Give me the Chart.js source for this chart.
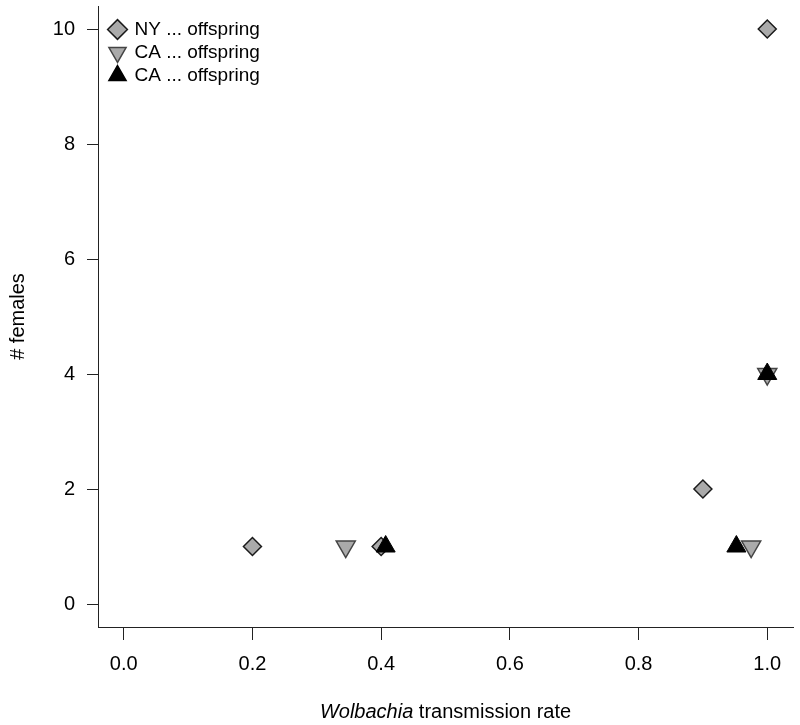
<!DOCTYPE html>
<html>
    <head>
        <title>Wolbachia</title>
        <meta charset="UTF-8" />
        <script src="https://cdn.jsdelivr.net/npm/chart.js"></script>
        <style>
            body { margin: 0; background: #fff; }
        </style>
    </head>
    <body>
        <canvas id="myChart" width="800" height="725"></canvas>
        <script>
            // データ
            var seriesNames = ['NY ... offspring', 'CA ... offspring', 'CA ... offspring'];
            var nyRate = [0.2, 0.4, 0.9, 1.0];
            var nyFemales = [1, 1, 2, 10];
            var caDownRate = [0.345, 0.975, 1.0];
            var caDownFemales = [1, 1, 4];
            var caUpRate = [0.407, 0.952, 1.0];
            var caUpFemales = [1, 1, 4];
            var xTicks = [0.0, 0.2, 0.4, 0.6, 0.8, 1.0];
            var yTicks = [0, 2, 4, 6, 8, 10];

            function toPoints(xs, ys) {
                return xs.map(function (x, i) { return { x: x, y: ys[i] }; });
            }

            var fontFamily = '"Liberation Sans", Arial, sans-serif';

            // 凡例をプロット内の左上に置く
            var legendShift = {
                id: 'legendShift',
                afterLayout: function (chart) {
                    chart.legend.left = chart.chartArea.left + 8;
                    chart.legend.top = chart.chartArea.top + 10;
                }
            };

            // x軸タイトル (斜体 + 通常)
            var xTitle = {
                id: 'xTitle',
                afterDraw: function (chart) {
                    var ctx = chart.ctx;
                    var a = 'Wolbachia';
                    var b = ' transmission rate';
                    ctx.save();
                    ctx.fillStyle = '#000';
                    ctx.textBaseline = 'middle';
                    ctx.font = 'italic 20px ' + fontFamily;
                    var wa = ctx.measureText(a).width;
                    ctx.font = '20px ' + fontFamily;
                    var wb = ctx.measureText(b).width;
                    var cx = (chart.chartArea.left + chart.chartArea.right) / 2;
                    var x0 = cx - (wa + wb) / 2;
                    ctx.textAlign = 'left';
                    ctx.font = 'italic 20px ' + fontFamily;
                    ctx.fillText(a, x0, 712);
                    ctx.font = '20px ' + fontFamily;
                    ctx.fillText(b, x0 + wa, 712);
                    ctx.restore();
                }
            };

            var ctx = document.getElementById('myChart').getContext('2d');
            var myChart = new Chart(ctx, {
                type: 'scatter',
                data: {
                    datasets: [{
                        label: seriesNames[0],
                        data: toPoints(nyRate, nyFemales),
                        pointStyle: 'rectRot',
                        pointRadius: 9,
                        pointBackgroundColor: '#aaaaaa',
                        pointBorderColor: '#1a1a1a',
                        pointBorderWidth: 1.5,
                        backgroundColor: '#aaaaaa',
                        borderColor: '#1a1a1a',
                        borderWidth: 1.5,
                        order: 3
                    }, {
                        label: seriesNames[1],
                        data: toPoints(caDownRate, caDownFemales),
                        pointStyle: 'triangle',
                        pointRotation: 180,
                        pointRadius: 11,
                        pointBackgroundColor: '#aaaaaa',
                        pointBorderColor: '#444444',
                        pointBorderWidth: 1.5,
                        backgroundColor: '#aaaaaa',
                        borderColor: '#444444',
                        borderWidth: 1.5,
                        order: 2
                    }, {
                        label: seriesNames[2],
                        data: toPoints(caUpRate, caUpFemales),
                        pointStyle: 'triangle',
                        pointRadius: 11,
                        pointBackgroundColor: '#000000',
                        pointBorderColor: '#000000',
                        pointBorderWidth: 1,
                        backgroundColor: '#000000',
                        borderColor: '#000000',
                        borderWidth: 1,
                        order: 1
                    }]
                },
                options: {
                    responsive: false,
                    animation: false,
                    layout: { autoPadding: false, padding: { top: 6, right: 7, left: 0, bottom: 0 } },
                    plugins: {
                        tooltip: { enabled: false },
                        legend: {
                            position: 'chartArea',
                            align: 'start',
                            labels: {
                                usePointStyle: true,
                                boxHeight: 14,
                                boxWidth: 15,
                                padding: 4,
                                color: '#000',
                                font: { family: fontFamily, size: 19 },
                                sort: function (a, b) { return a.datasetIndex - b.datasetIndex; },
                                generateLabels: function (chart) {
                                    var items = Chart.defaults.plugins.legend.labels.generateLabels(chart);
                                    items.forEach(function (it) { it.lineWidth = 1.5; });
                                    return items;
                                }
                            }
                        }
                    },
                    scales: {
                        x: {
                            type: 'linear',
                            min: -0.04,
                            max: 1.04,
                            afterBuildTicks: function (scale) {
                                scale.ticks = xTicks.map(function (v) { return { value: v }; });
                            },
                            afterFit: function (scale) {
                                scale.height = 98;
                                scale.paddingLeft = 0;
                                scale.paddingRight = 0;
                            },
                            grid: { drawOnChartArea: false, tickLength: 13, color: '#222', lineWidth: 1 },
                            border: { display: true, color: '#222', width: 1 },
                            ticks: {
                                padding: 12,
                                color: '#000',
                                font: { family: fontFamily, size: 20 },
                                callback: function (v) { return v.toFixed(1); }
                            },
                            title: { display: false }
                        },
                        y: {
                            type: 'linear',
                            min: -0.4,
                            max: 10.4,
                            afterBuildTicks: function (scale) {
                                scale.ticks = yTicks.map(function (v) { return { value: v }; });
                            },
                            afterFit: function (scale) {
                                scale.width = 98;
                                scale.paddingTop = 0;
                                scale.paddingBottom = 0;
                            },
                            grid: { drawOnChartArea: false, tickLength: 11, color: '#222', lineWidth: 1 },
                            border: { display: true, color: '#222', width: 1 },
                            ticks: {
                                padding: 12,
                                color: '#000',
                                font: { family: fontFamily, size: 20 },
                                callback: function (v) { return String(v); }
                            },
                            title: {
                                display: true,
                                text: '# females',
                                color: '#000',
                                font: { family: fontFamily, size: 20 },
                                padding: { top: 6, bottom: 0 }
                            }
                        }
                    }
                },
                plugins: [legendShift, xTitle]
            });
        </script>
    </body>
</html>
